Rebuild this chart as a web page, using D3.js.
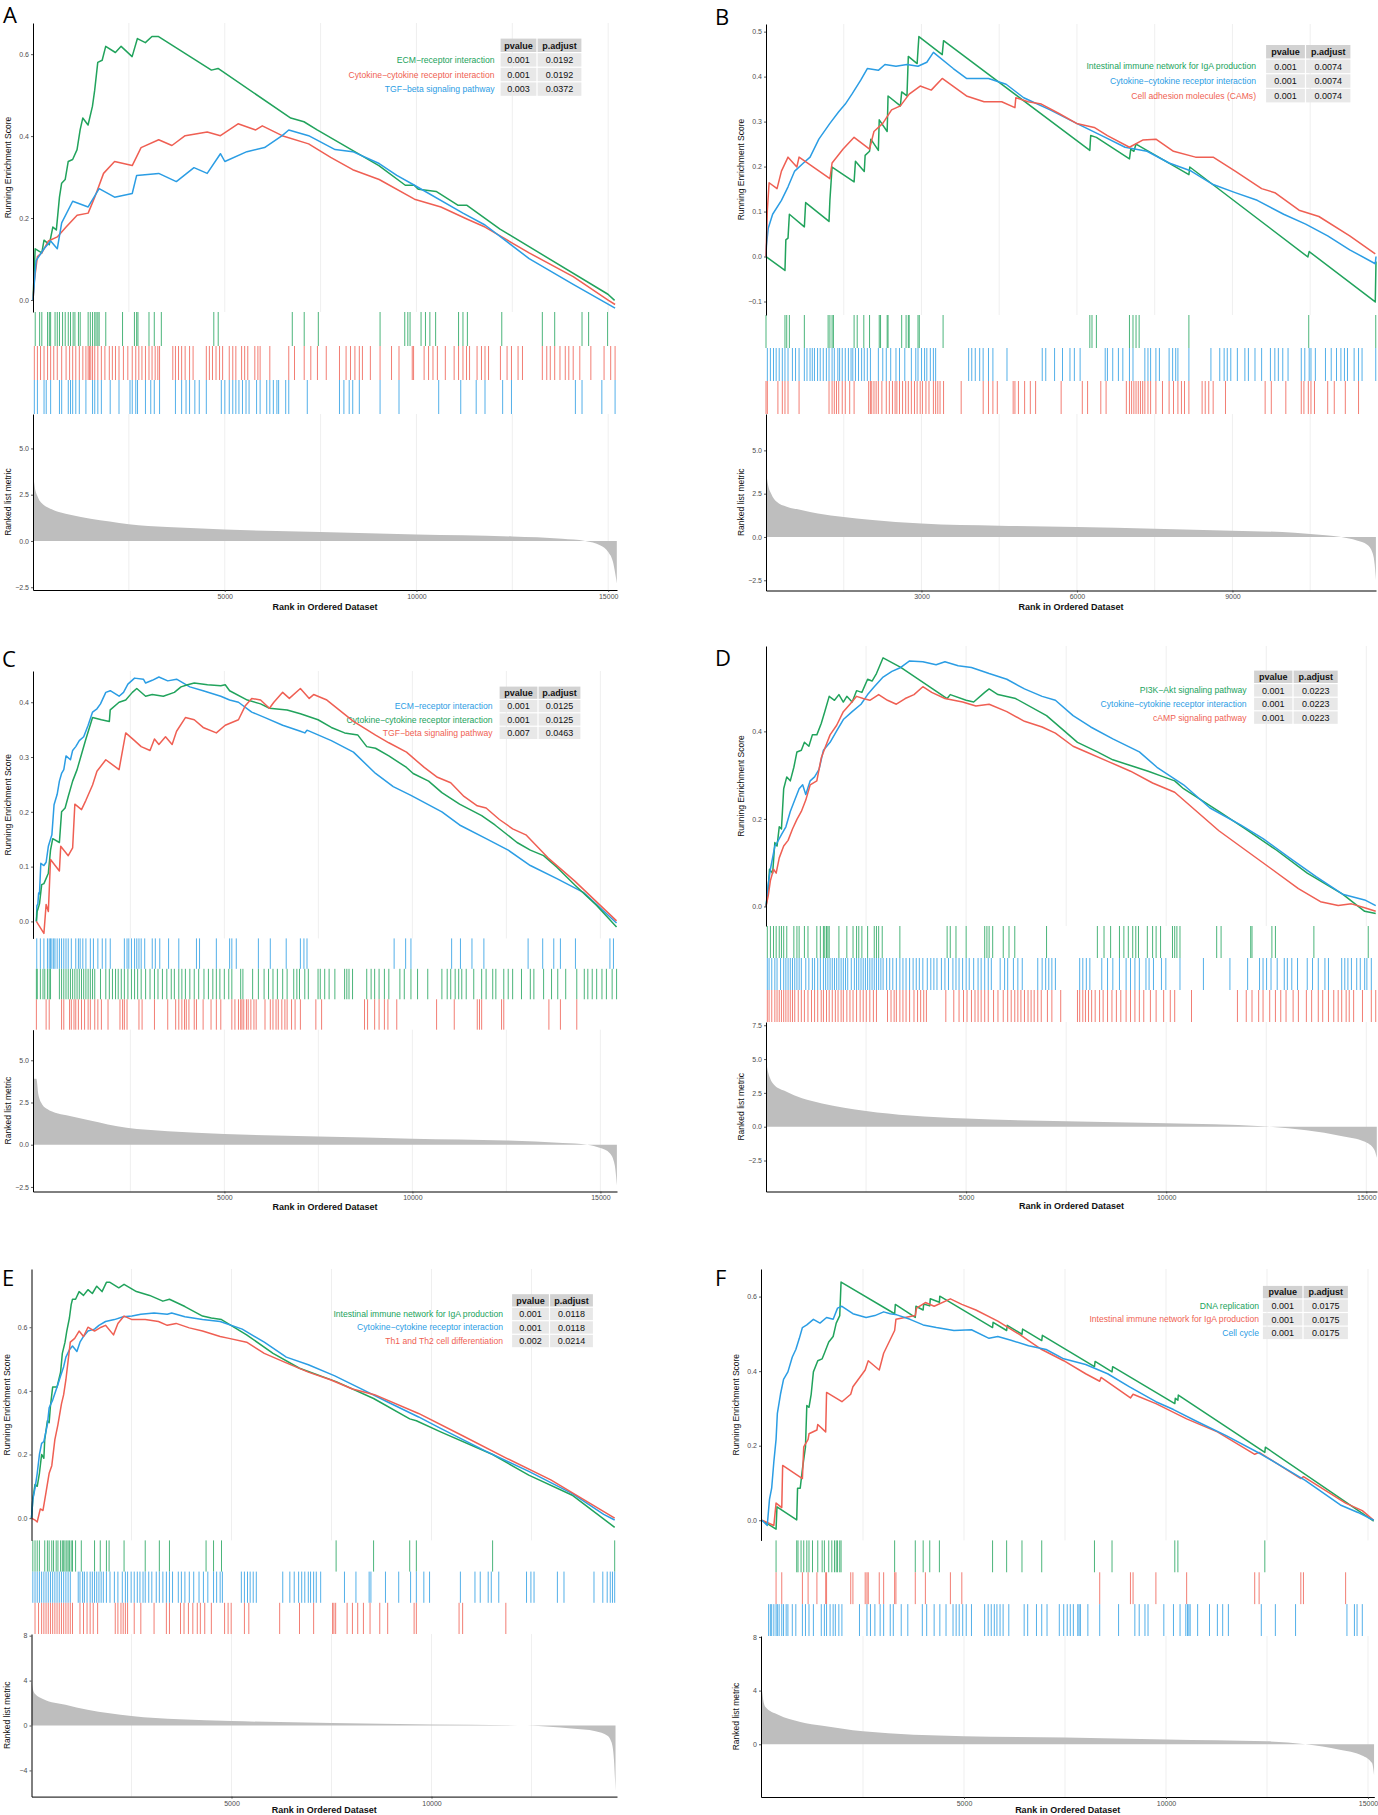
<!DOCTYPE html>
<html lang="en">
<head>
<meta charset="UTF-8" />
<title>GSEA enrichment plots</title>
<script src="https://d3js.org/d3.v7.min.js"></script>
<style>
  body { margin: 0; background: #fff; }
</style>
</head>
<body>
<svg width="1378" height="1815"></svg>
<script>
// ---------- data ----------
// A
const termsA = ["ECM−receptor interaction", "Cytokine−cytokine receptor interaction", "TGF−beta signaling pathway"];
const pvalA = ["0.001", "0.001", "0.003"];
const padjA = ["0.0192", "0.0192", "0.0372"];
const esA1 = [[0,0],[57,0.125],[230,0.115],[287,0.146],[425,0.135],[517,0.178],[609,0.171],[690,0.251],[747,0.285],[839,0.294],[919,0.338],[1034,0.343],[1149,0.367],[1229,0.415],[1298,0.444],[1436,0.427],[1551,0.473],[1609,0.512],[1689,0.58],[1804,0.585],[1896,0.619],[2149,0.604],[2298,0.619],[2585,0.594],[2723,0.638],[2930,0.628],[3102,0.643],[3275,0.643],[4653,0.561],[4826,0.565],[6722,0.444],[7066,0.435],[7411,0.415],[9020,0.328],[9709,0.28],[9939,0.28],[10053,0.27],[10513,0.265],[11088,0.231],[11318,0.231],[12179,0.173],[14994,0.014],[15167,-0.001]];
const esA2 = [[0,0],[35,0.047],[115,0.106],[230,0.115],[403,0.144],[633,0.154],[863,0.178],[1150,0.207],[1438,0.212],[1610,0.251],[1840,0.309],[2128,0.338],[2588,0.328],[2818,0.372],[3278,0.391],[3623,0.377],[3968,0.401],[4543,0.41],[4888,0.401],[5348,0.43],[5808,0.415],[5980,0.425],[6498,0.401],[7188,0.381],[7763,0.348],[8338,0.318],[9028,0.294],[9948,0.246],[10638,0.227],[11328,0.197],[11788,0.178],[12938,0.115],[14088,0.057],[15008,-0.001],[15180,-0.011]];
const esA3 = [[0,0],[80,0.096],[288,0.125],[460,0.144],[633,0.125],[748,0.188],[1035,0.241],[1438,0.227],[1725,0.272],[2128,0.251],[2588,0.26],[2703,0.304],[3278,0.309],[3738,0.289],[4198,0.323],[4543,0.309],[4888,0.357],[5003,0.338],[5578,0.362],[6038,0.372],[6498,0.401],[6670,0.415],[7188,0.401],[7878,0.367],[8338,0.362],[9028,0.333],[9488,0.304],[9948,0.28],[11213,0.212],[11788,0.183],[12938,0.101],[14088,0.038],[15180,-0.02]];
const hitsA1 = [58,173,230,380,426,460,575,633,690,771,840,920,978,1047,1093,1185,1231,1438,1495,1553,1610,1645,1691,1725,1898,2335,2645,2703,2737,3025,3163,3347,4715,4830,6762,7073,7441,9051,9695,9775,9833,10120,10235,10350,10500,11098,11213,11328,12225,13283,13605,14318,14490,14985];
const hitsA2 = [35,115,196,288,380,460,541,633,748,863,955,1035,1116,1208,1300,1380,1438,1472,1507,1553,1610,1691,1783,1875,1990,2070,2151,2243,2358,2473,2588,2680,2760,2841,2933,3025,3105,3186,3255,3301,3646,3715,3795,3876,3968,4083,4175,4520,4600,4681,4773,4865,4945,5118,5210,5290,5440,5520,5601,5785,5865,5923,6176,6670,6820,7073,7245,7418,7648,7993,8165,8280,8395,8510,8591,8798,9051,9350,9545,9890,9925,10200,10316,10431,10546,10753,10983,11098,11213,11305,11385,11581,11696,11788,11880,12190,12363,12478,12650,12765,13283,13398,13490,13605,13743,13881,13973,14088,14260,14548,14893,15065,15180];
const hitsA3 = [35,115,288,345,460,690,748,920,978,1035,1116,1208,1380,1553,1610,1691,1783,2013,2243,2530,2588,2680,2726,2933,3071,3163,3301,3715,3876,3991,4083,4221,4336,4520,4911,5003,5118,5210,5290,5371,5463,5555,5635,5831,5923,6095,6176,6268,6360,6406,6590,6670,7153,7993,8108,8246,8338,8510,9051,9545,10580,11155,11558,11788,12248,12478,14145,14318,14835,15180];
const metricA = [[0,3.8],[40,3.0],[120,2.4],[250,2.0],[400,1.8],[700,1.55],[1000,1.4],[1500,1.2],[2000,1.05],[2500,0.9],[3500,0.75],[5000,0.62],[7500,0.48],[10000,0.35],[12500,0.24],[13800,0.12],[14400,0.0],[14800,-0.25],[15000,-0.6],[15120,-1.1],[15180,-1.7],[15225,-2.3]];

// B
const termsB = ["Intestinal immune network for IgA production", "Cytokine−cytokine receptor interaction", "Cell adhesion molecules (CAMs)"];
const pvalB = ["0.001", "0.001", "0.001"];
const padjB = ["0.0074", "0.0074", "0.0074"];
const esB1 = [[0,0],[366,-0.031],[383,0.037],[425,0.041],[451,0.094],[740,0.066],[765,0.12],[1216,0.078],[1233,0.125],[1275,0.199],[1700,0.166],[1726,0.212],[1896,0.189],[1913,0.225],[1998,0.234],[2023,0.261],[2168,0.236],[2185,0.304],[2338,0.278],[2355,0.357],[2593,0.335],[2618,0.366],[2720,0.357],[2746,0.445],[2916,0.429],[2950,0.489],[3400,0.449],[3426,0.48],[6248,0.236],[6265,0.269],[6375,0.265],[7013,0.217],[7038,0.239],[7098,0.234],[7140,0.25],[8160,0.182],[8177,0.199],[10455,-0.001],[10481,0.011],[11756,-0.101],[11770,-0.011]];
const esB2 = [[0,0],[8,0.024],[43,0.063],[128,0.094],[298,0.125],[425,0.155],[553,0.19],[723,0.208],[850,0.221],[1020,0.261],[1233,0.296],[1403,0.322],[1530,0.339],[1658,0.361],[1828,0.392],[1955,0.418],[2168,0.414],[2295,0.427],[2508,0.423],[2720,0.427],[2933,0.423],[3103,0.432],[3230,0.454],[3613,0.418],[3868,0.396],[4293,0.396],[4633,0.383],[4973,0.353],[5483,0.326],[5993,0.296],[6545,0.265],[6928,0.243],[7353,0.234],[7778,0.208],[8203,0.19],[8628,0.16],[9053,0.142],[9478,0.125],[9988,0.094],[10413,0.072],[10838,0.046],[11263,0.015],[11756,-0.016],[11770,0]];
const esB3 = [[0,0],[26,0.103],[60,0.164],[213,0.151],[298,0.19],[425,0.221],[595,0.199],[638,0.221],[1233,0.173],[1275,0.208],[1488,0.239],[1700,0.265],[1998,0.239],[2083,0.278],[2253,0.296],[2423,0.326],[2593,0.335],[2763,0.361],[2975,0.379],[3188,0.37],[3400,0.396],[3868,0.357],[4208,0.344],[4548,0.344],[4803,0.331],[4820,0.353],[5058,0.344],[5313,0.339],[5653,0.318],[5993,0.296],[6333,0.287],[6588,0.269],[7013,0.243],[7268,0.259],[7523,0.261],[7863,0.234],[8288,0.221],[8628,0.221],[9053,0.19],[9563,0.151],[9818,0.142],[10285,0.103],[10668,0.089],[11263,0.046],[11756,0.006]];
const hitsB1 = [0,366,400,451,740,1199,1233,1275,1301,1700,1760,1887,1998,2185,2210,2338,2355,2618,2703,2746,2763,2933,2958,3417,6248,6290,6375,7013,7081,7140,7200,8160,10472,11765];
const hitsB2 = [26,85,145,196,255,315,366,425,510,570,638,740,791,850,893,935,995,1046,1105,1165,1216,1275,1318,1386,1420,1471,1530,1590,1641,1675,1726,1785,1845,1896,1955,2015,2168,2253,2321,2406,2508,2576,2678,2805,2890,2933,3001,3060,3103,3171,3230,3273,3910,3970,4038,4123,4190,4293,4378,4650,5330,5398,5568,5721,5865,5950,6061,6545,6588,6690,6800,6885,7013,7081,7310,7370,7421,7523,7591,7778,7846,7905,7948,8160,8585,8755,8840,8900,8968,9095,9240,9308,9435,9563,9733,9818,9886,9971,10073,10328,10396,10481,10515,10600,10795,10906,11008,11093,11161,11220,11348,11433,11501,11765];
const hitsB3 = [0,26,230,315,366,425,638,1216,1275,1318,1360,1403,1471,1530,1615,1700,1981,2015,2040,2083,2125,2168,2236,2321,2380,2440,2491,2525,2576,2635,2695,2746,2805,2865,2916,2975,3018,3086,3145,3230,3273,3315,3358,3426,3766,4191,4293,4378,4463,4769,4803,4871,4990,5100,5202,5695,6103,6205,6460,6562,6953,7013,7055,7098,7140,7183,7225,7268,7310,7370,7421,7523,7650,7778,7863,7948,8016,8075,8160,8415,8475,8543,8628,8866,9631,9750,10030,10328,10379,10464,10515,10583,10838,10965,11178,11433];
const metricB = [[0,3.8],[40,3.0],[100,2.5],[200,2.05],[400,1.75],[700,1.55],[1000,1.35],[1500,1.15],[2000,1.0],[3000,0.78],[4500,0.65],[6000,0.57],[7500,0.47],[9000,0.36],[10200,0.25],[10800,0.1],[11100,0.0],[11400,-0.2],[11600,-0.45],[11700,-0.9],[11745,-1.6],[11768,-2.5]];

// C
const termsC = ["ECM−receptor interaction", "Cytokine−cytokine receptor interaction", "TGF−beta signaling pathway"];
const pvalC = ["0.001", "0.001", "0.007"];
const padjC = ["0.0125", "0.0125", "0.0463"];
const esC1 = [[0,0],[15,0.029],[40,0.032],[60,0.052],[82,0.05],[118,0.106],[200,0.102],[259,0.108],[318,0.137],[412,0.158],[470,0.213],[553,0.232],[612,0.256],[670,0.27],[729,0.277],[788,0.302],[906,0.295],[964,0.312],[1047,0.319],[1141,0.33],[1258,0.337],[1376,0.358],[1494,0.382],[1611,0.388],[1705,0.397],[1846,0.418],[1964,0.421],[2199,0.411],[2317,0.418],[2434,0.433],[2611,0.444],[2846,0.442],[2905,0.435],[3081,0.44],[3258,0.446],[3493,0.439],[3728,0.442],[4081,0.428],[4434,0.421],[4904,0.411],[5139,0.404],[5374,0.4],[5727,0.382],[6080,0.372],[6550,0.358],[7021,0.347],[7138,0.344],[7197,0.349],[7844,0.33],[8432,0.309],[9020,0.27],[9490,0.246],[9961,0.23],[10784,0.2],[11254,0.176],[11960,0.151],[12548,0.13],[13136,0.102],[13842,0.078],[14547,0.053],[15429,-0.003]];
const esC2 = [[0,0],[20,0.018],[40,0.022],[82,0.032],[141,0.067],[200,0.069],[318,0.088],[376,0.13],[435,0.151],[612,0.144],[670,0.2],[764,0.207],[847,0.228],[964,0.256],[1082,0.277],[1200,0.305],[1317,0.333],[1494,0.372],[1729,0.368],[1940,0.365],[1964,0.386],[2199,0.4],[2376,0.404],[2552,0.418],[2670,0.425],[2905,0.411],[3081,0.414],[3375,0.411],[3669,0.418],[3846,0.428],[4022,0.432],[4198,0.435],[4551,0.432],[4904,0.43],[5022,0.432],[5139,0.421],[5610,0.404],[5962,0.397],[6198,0.389],[6668,0.386],[7021,0.379],[7491,0.368],[7844,0.354],[8197,0.344],[8550,0.34],[8785,0.319],[9020,0.316],[9373,0.302],[9843,0.281],[10020,0.27],[10431,0.256],[10784,0.235],[11254,0.214],[11842,0.193],[12195,0.176],[12783,0.144],[13136,0.13],[13489,0.12],[13842,0.099],[14312,0.067],[14900,0.029],[15429,-0.01]];
const esC3 = [[0,0],[200,-0.022],[259,0.031],[318,0.018],[376,0.113],[612,0.092],[647,0.137],[847,0.12],[964,0.134],[1023,0.214],[1200,0.204],[1317,0.221],[1494,0.249],[1611,0.274],[1846,0.295],[2199,0.277],[2376,0.344],[2611,0.33],[2787,0.319],[3022,0.312],[3140,0.333],[3258,0.323],[3434,0.337],[3610,0.323],[3728,0.347],[3963,0.372],[4198,0.368],[4434,0.354],[4786,0.344],[5022,0.358],[5374,0.368],[5551,0.393],[5727,0.407],[5962,0.404],[6198,0.389],[6315,0.4],[6550,0.418],[6727,0.407],[7021,0.425],[7256,0.407],[7374,0.414],[7726,0.404],[8432,0.365],[9020,0.34],[9373,0.326],[9843,0.309],[10314,0.281],[10666,0.263],[11019,0.253],[11372,0.228],[11725,0.211],[11960,0.207],[12313,0.186],[12666,0.169],[13018,0.158],[13606,0.116],[14312,0.074],[15429,0.001]];
const hitsC1 = [10,106,200,294,341,376,412,459,494,553,612,670,729,788,847,929,1047,1117,1164,1235,1317,1435,1517,1635,1752,1846,1964,2340,2411,2458,2528,2611,2670,2728,2787,2881,3081,3163,3281,3516,3787,4257,4339,4786,5139,5198,5316,5904,6221,6644,7021,7115,7197,9514,9820,9961,11043,11278,11584,11901,13077,13465,13759,13936,14336,15253,15347];
const hitsC2 = [0,24,106,176,223,294,341,376,612,670,729,788,847,906,964,1023,1082,1141,1200,1258,1317,1376,1435,1494,1552,1705,1846,1940,2023,2105,2176,2258,2340,2434,2528,2611,2693,2787,2905,3022,3140,3234,3352,3469,3587,3669,3787,3869,3963,4081,4198,4316,4457,4575,4692,4786,4880,4998,5116,5198,5433,5492,5751,5904,6056,6174,6292,6409,6550,6668,6844,6927,6997,7138,7232,7491,7550,7668,7785,7938,8197,8256,8314,8408,8785,8902,8996,9114,9255,9373,9667,9784,9961,10137,10408,10784,10925,11019,11137,11231,11313,11431,11631,11842,11960,12136,12219,12430,12548,12666,12901,13136,13230,13489,13700,13865,14077,14371,14571,14665,14782,14900,15041,15159,15312,15430];
const hitsC3 = [0,259,341,670,729,882,929,1000,1047,1117,1200,1282,1376,1435,1552,1635,1729,1905,2223,2293,2340,2411,2728,2811,3140,3493,3704,3787,3869,3940,3987,4057,4198,4257,4434,4645,4786,4904,5198,5280,5374,5433,5468,5515,5586,5633,5704,5786,5845,6080,6221,6292,6374,6433,6527,6609,6668,6786,6880,7021,7432,7585,8726,8808,8996,9114,9255,9349,9584,10643,11113,11725,11784,11842,12371,12430,13630,13936,14371];
const metricC = [[-85,3.9],[0,3.9],[50,3.0],[150,2.4],[300,2.1],[500,1.9],[800,1.75],[1400,1.45],[2400,1.0],[3500,0.8],[5000,0.64],[7500,0.48],[10000,0.36],[12500,0.25],[14000,0.1],[14650,0.0],[15000,-0.2],[15250,-0.5],[15380,-1.2],[15438,-2.4]];

// D
const termsD = ["PI3K−Akt signaling pathway", "Cytokine−cytokine receptor interaction", "cAMP signaling pathway"];
const pvalD = ["0.001", "0.001", "0.001"];
const padjD = ["0.0223", "0.0223", "0.0223"];
const esD1 = [[0,0],[55,0.041],[88,0.085],[166,0.076],[221,0.146],[276,0.138],[331,0.182],[386,0.177],[442,0.269],[519,0.296],[607,0.287],[696,0.318],[773,0.353],[883,0.357],[960,0.375],[1071,0.366],[1159,0.392],[1270,0.392],[1380,0.418],[1468,0.445],[1579,0.48],[1711,0.471],[1822,0.484],[1932,0.467],[2020,0.48],[2153,0.467],[2263,0.493],[2396,0.489],[2539,0.519],[2650,0.515],[2760,0.532],[2926,0.568],[3367,0.546],[4526,0.475],[4604,0.484],[5001,0.471],[5189,0.467],[5465,0.489],[5575,0.497],[5796,0.484],[6238,0.475],[7010,0.436],[7452,0.401],[7783,0.375],[8280,0.353],[8666,0.335],[9108,0.322],[9550,0.309],[9936,0.296],[10212,0.287],[10433,0.269],[11316,0.217],[11978,0.177],[12751,0.129],[13524,0.076],[14407,0.028],[14959,-0.011],[15235,-0.016]];
const esD2 = [[0,0],[55,0.05],[110,0.085],[221,0.138],[276,0.146],[386,0.164],[497,0.182],[607,0.217],[718,0.243],[828,0.269],[916,0.278],[994,0.256],[1104,0.287],[1214,0.296],[1325,0.313],[1435,0.357],[1601,0.375],[1766,0.401],[1932,0.427],[2153,0.445],[2374,0.462],[2539,0.484],[2705,0.502],[2926,0.524],[3146,0.537],[3367,0.546],[3588,0.561],[3919,0.559],[4250,0.552],[4471,0.559],[4802,0.55],[5134,0.546],[5575,0.532],[6017,0.519],[6458,0.497],[6900,0.48],[7231,0.471],[7673,0.436],[8114,0.41],[8666,0.383],[9329,0.353],[9770,0.318],[10433,0.278],[11095,0.225],[11868,0.186],[12420,0.155],[13082,0.111],[13745,0.068],[14407,0.028],[14959,0.015],[15235,0.002]];
const esD3 = [[0,0],[55,0.024],[110,0.059],[188,0.085],[254,0.076],[331,0.111],[442,0.138],[552,0.151],[662,0.177],[773,0.199],[883,0.217],[994,0.243],[1104,0.278],[1270,0.287],[1380,0.339],[1490,0.366],[1601,0.392],[1766,0.414],[1932,0.445],[2098,0.462],[2263,0.48],[2429,0.475],[2594,0.471],[2815,0.484],[3036,0.471],[3257,0.462],[3478,0.475],[3698,0.484],[3919,0.502],[4140,0.489],[4471,0.475],[4913,0.467],[5244,0.458],[5575,0.462],[6017,0.445],[6458,0.423],[6900,0.41],[7231,0.396],[7673,0.366],[8004,0.353],[8556,0.331],[9108,0.309],[9660,0.282],[10212,0.261],[10764,0.217],[11316,0.173],[11978,0.129],[12641,0.085],[13303,0.041],[13855,0.011],[14297,0.002],[14628,0.006],[14959,-0.003],[15235,-0.011]];
const hitsD1 = [33,110,188,254,331,386,442,519,696,773,828,960,1049,1270,1358,1435,1468,1512,1546,1579,1822,2020,2175,2263,2318,2396,2539,2705,2760,2815,2904,3345,4526,4604,4747,5001,5465,5520,5575,5664,5928,6072,6216,7010,8280,8446,8611,8832,8942,9053,9163,9240,9307,9528,9660,9748,9859,10157,10212,10267,10344,11261,11371,12111,12144,12641,12729,13690,15048];
const hitsD2 = [33,77,144,221,276,364,442,497,552,607,662,718,773,828,883,994,1071,1159,1214,1292,1358,1435,1490,1546,1601,1656,1711,1766,1822,1877,1932,1987,2042,2131,2208,2263,2318,2374,2429,2484,2539,2594,2650,2705,2760,2815,2870,2926,3014,3091,3168,3257,3345,3422,3500,3588,3676,3754,3831,3919,4030,4118,4195,4272,4383,4471,4560,4670,4747,4824,4913,5001,5078,5189,5299,5376,5465,5553,5630,5851,5962,6039,6182,6293,6403,6790,6900,6988,7066,7143,7231,7838,7916,8004,8092,8390,8534,8666,8832,8998,9108,9218,9329,9494,9572,9682,9881,9991,10344,10930,11592,12034,12332,12420,12508,12619,12773,12950,13027,13138,13281,13524,13656,13800,13966,14054,14385,14462,14540,14628,14760,14849,14959,15014,15125];
const hitsD3 = [33,77,144,221,276,331,386,442,497,552,607,662,718,806,883,960,1049,1137,1214,1292,1380,1435,1512,1579,1656,1733,1800,1877,1932,2020,2098,2175,2263,2352,2429,2506,2594,2683,2760,3036,3124,3202,3257,3345,3422,3500,3588,3698,3787,3864,3941,4008,4493,4692,4824,4935,5023,5134,5222,5299,5376,5465,5553,5686,5796,5928,6039,6127,6216,6293,6370,6458,6547,6624,6701,6790,6878,7032,7143,7364,7783,7838,7916,7982,8059,8137,8225,8335,8424,8534,8644,8755,8865,8998,9108,9218,9329,9439,9605,9748,9936,10102,10212,10632,11780,12000,12144,12310,12420,12586,12729,12862,12994,13171,13303,13502,13634,13800,13910,14054,14186,14297,14385,14496,14573,14683,14904,15125,15235];
const metricD = [[0,4.9],[40,4.2],[100,3.6],[200,3.1],[500,2.6],[900,2.1],[1400,1.72],[2500,1.16],[3600,0.82],[5000,0.6],[7500,0.4],[10000,0.26],[12400,0.03],[13500,-0.26],[14400,-0.7],[14950,-1.1],[15200,-1.7],[15262,-2.3]];

// E
const termsE = ["Intestinal immune network for IgA production", "Cytokine−cytokine receptor interaction", "Th1 and Th2 cell differentiation"];
const pvalE = ["0.001", "0.001", "0.002"];
const padjE = ["0.0118", "0.0118", "0.0214"];
const esE1 = [[0,0],[33,0.059],[88,0.106],[143,0.1],[198,0.141],[253,0.2],[309,0.188],[331,0.247],[397,0.306],[441,0.3],[474,0.353],[529,0.412],[639,0.412],[727,0.459],[771,0.518],[838,0.553],[882,0.588],[948,0.629],[992,0.671],[1025,0.688],[1102,0.688],[1190,0.712],[1300,0.7],[1411,0.718],[1521,0.706],[1631,0.729],[1763,0.712],[1873,0.741],[1962,0.741],[2182,0.724],[2314,0.735],[2623,0.712],[2953,0.7],[3284,0.682],[3449,0.688],[3835,0.665],[4276,0.635],[4496,0.629],[4750,0.624],[5378,0.576],[6039,0.518],[6700,0.471],[7615,0.429],[8552,0.376],[9455,0.312],[9621,0.306],[10227,0.271],[11527,0.2],[12431,0.135],[13533,0.071],[14579,-0.029]];
const esE2 = [[0,0],[33,0.059],[88,0.094],[143,0.141],[198,0.2],[253,0.235],[309,0.241],[397,0.294],[441,0.347],[529,0.371],[639,0.412],[727,0.447],[804,0.476],[860,0.506],[948,0.529],[1025,0.541],[1135,0.524],[1212,0.553],[1300,0.571],[1411,0.588],[1576,0.594],[1686,0.606],[1851,0.618],[2072,0.624],[2292,0.633],[2513,0.635],[2733,0.641],[3064,0.645],[3394,0.641],[3504,0.645],[3835,0.633],[4276,0.624],[4716,0.618],[5268,0.594],[5819,0.553],[6370,0.506],[6921,0.482],[7582,0.447],[8243,0.406],[8904,0.365],[9676,0.318],[10227,0.282],[11329,0.212],[12431,0.147],[13533,0.076],[14304,0.012],[14579,-0.006]];
const esE3 = [[0,0],[88,-0.006],[143,-0.012],[220,0.029],[287,0.024],[364,0.082],[441,0.141],[507,0.165],[584,0.247],[661,0.294],[749,0.359],[804,0.388],[860,0.435],[915,0.494],[970,0.553],[1080,0.565],[1190,0.588],[1300,0.571],[1411,0.6],[1576,0.588],[1741,0.6],[1851,0.606],[2050,0.576],[2160,0.612],[2314,0.635],[2513,0.624],[2843,0.624],[3174,0.618],[3394,0.606],[3615,0.612],[3945,0.598],[4276,0.588],[4716,0.571],[4937,0.565],[5378,0.553],[5819,0.518],[6370,0.488],[6921,0.459],[7472,0.435],[8023,0.406],[8574,0.388],[9676,0.329],[10778,0.259],[11880,0.188],[12982,0.12],[14579,0]];
const hitsE1 = [33,88,143,198,331,397,441,507,551,617,661,727,771,804,838,882,915,948,992,1025,1102,1245,1576,1719,1873,1940,2314,2843,3196,3449,4364,4551,4750,7615,8552,9455,9621,11527,14579];
const hitsE2 = [33,88,143,198,253,309,364,419,474,529,584,639,694,749,804,860,915,970,1168,1212,1278,1322,1389,1466,1521,1576,1631,1686,1741,1796,1873,1962,2072,2160,2270,2347,2402,2491,2568,2645,2711,2788,2843,2931,3008,3119,3196,3284,3372,3449,3526,3670,3747,3835,3945,4055,4188,4298,4408,4551,4628,4716,4772,5246,5323,5400,5466,5543,5620,6281,6458,6568,6678,6755,6832,6920,6976,7053,7119,7229,7824,8111,8441,8485,8849,9180,9477,9621,9808,9951,10722,11086,11218,11417,11494,11681,12375,12485,12563,13147,13312,14062,14282,14392,14469,14524,14579];
const hitsE3 = [88,176,253,309,364,419,474,529,584,639,694,749,804,860,915,970,1025,1212,1300,1389,1466,1543,1653,2094,2160,2237,2292,2347,2402,2568,2733,3064,3372,3449,3725,3813,3923,4033,4144,4221,4331,4496,4827,4915,4992,5323,5433,6204,6700,7053,7527,7560,7604,7890,8023,8155,8298,8463,8706,8904,9565,9621,10689,10778,11858];
const metricE = [[0,4.0],[30,3.3],[90,2.8],[300,2.35],[850,1.85],[1400,1.4],[2500,0.85],[3700,0.55],[5000,0.4],[7500,0.23],[10000,0.1],[12400,0.0],[13500,-0.27],[14100,-0.5],[14400,-0.9],[14500,-1.5],[14560,-3.0],[14600,-5.8]];

// F
const termsF = ["DNA replication", "Intestinal immune network for IgA production", "Cell cycle"];
const pvalF = ["0.001", "0.001", "0.001"];
const padjF = ["0.0175", "0.0175", "0.0175"];
const esF1 = [[0,0],[348,-0.024],[370,0.036],[859,0.001],[880,0.086],[946,0.086],[1000,0.137],[1076,0.197],[1109,0.308],[1163,0.303],[1217,0.338],[1272,0.398],[1380,0.428],[1489,0.433],[1544,0.448],[1652,0.478],[1761,0.493],[1837,0.529],[1924,0.549],[1957,0.639],[3283,0.554],[3300,0.579],[3794,0.544],[3810,0.574],[3989,0.564],[4000,0.58],[4152,0.575],[4165,0.594],[4391,0.585],[4400,0.601],[5707,0.517],[5720,0.531],[6055,0.509],[6070,0.523],[6435,0.499],[6450,0.513],[6924,0.482],[6940,0.496],[8229,0.412],[8245,0.426],[8664,0.398],[8680,0.412],[10218,0.313],[10230,0.327],[10294,0.322],[10305,0.336],[12446,0.182],[12460,0.196],[15142,-0.002]];
const esF2 = [[0,0],[293,-0.014],[348,0.046],[489,0.034],[511,0.147],[1000,0.112],[1033,0.197],[1141,0.217],[1163,0.232],[1359,0.242],[1380,0.257],[1576,0.237],[1598,0.343],[1978,0.318],[2196,0.338],[2250,0.358],[2554,0.403],[2598,0.418],[2630,0.428],[2902,0.403],[3011,0.448],[3283,0.509],[3315,0.539],[3794,0.549],[3826,0.569],[4044,0.584],[4261,0.574],[4663,0.594],[4946,0.579],[5294,0.564],[5837,0.534],[6381,0.498],[6924,0.458],[7468,0.428],[8011,0.393],[8359,0.373],[8392,0.383],[9120,0.328],[9185,0.338],[9750,0.313],[10511,0.272],[11272,0.237],[12196,0.177],[12305,0.182],[13337,0.112],[13402,0.117],[14446,0.046],[14859,0.026],[15142,0]];
const esF3 = [[0,0],[130,-0.014],[185,0.056],[239,0.086],[293,0.157],[348,0.217],[380,0.287],[457,0.338],[533,0.378],[641,0.398],[750,0.438],[837,0.458],[924,0.488],[1000,0.517],[1109,0.524],[1272,0.539],[1435,0.529],[1598,0.544],[1761,0.539],[1870,0.569],[1978,0.574],[2250,0.554],[2576,0.544],[2794,0.549],[3011,0.559],[3174,0.554],[3337,0.551],[3663,0.539],[3989,0.524],[4315,0.517],[4750,0.509],[5185,0.511],[5620,0.488],[5837,0.493],[6163,0.483],[6598,0.468],[7033,0.458],[7468,0.433],[8011,0.418],[8555,0.393],[9098,0.358],[9750,0.318],[10185,0.297],[10729,0.267],[11490,0.227],[12359,0.177],[13446,0.107],[14316,0.041],[14751,0.021],[15142,0]];
const hitsF1 = [348,859,891,967,1033,1109,1163,1250,1380,1489,1544,1652,1728,1794,1837,1870,1924,1957,3283,3794,3989,4152,4391,5707,6055,6435,6924,8229,8664,10218,10294,12446];
const hitsF2 = [348,489,1000,1141,1359,1576,1598,2196,2250,2554,2598,2630,2902,3011,3283,3315,3794,4044,4663,4946,8359,9120,9185,9750,10511,12196,12305,13337,13402,14446];
const hitsF3 = [163,207,239,293,348,380,424,489,533,598,641,750,837,1000,1076,1163,1272,1467,1544,1598,1685,1761,1815,1902,1978,2413,2598,2685,2794,2924,3011,3174,3250,3446,3609,3968,4076,4261,4402,4555,4728,4805,4881,4968,5055,5185,5511,5598,5674,5750,5815,5892,5968,6109,6489,6576,6794,6924,7055,7359,7468,7555,7631,7707,7816,7848,7881,8066,8359,8826,9229,9337,9479,9555,9946,10185,10348,10490,10533,10566,10598,10783,11077,11272,11403,11544,12359,12707,13207,14479,14664,14729,14859];
const metricF = [[0,4.0],[30,3.3],[80,2.8],[400,2.2],[950,1.66],[1500,1.38],[2500,0.97],[5000,0.6],[7500,0.5],[10000,0.36],[12500,0.22],[13450,0.0],[14300,-0.4],[14850,-0.83],[15100,-1.4],[15150,-2.3]];

// axis ticks
const xTicksA = [5000, 10000, 15000], gridA = [2500, 5000, 7500, 10000, 12500, 15000];
const xTicksB = [3000, 6000, 9000], gridB = [1500, 3000, 4500, 6000, 7500, 9000, 10500];
const xTicksE = [5000, 10000], gridE = [2500, 5000, 7500, 10000, 12500];
const esTicksA = [0, 0.2, 0.4, 0.6];
const esTicksB = [-0.1, 0, 0.1, 0.2, 0.3, 0.4, 0.5];
const esTicksC = [0, 0.1, 0.2, 0.3, 0.4];
const esTicksD = [0, 0.2, 0.4];
const rankTicksA = [-2.5, 0, 2.5, 5];
const rankTicksD = [-2.5, 0, 2.5, 5, 7.5];
const rankTicksE = [-4, 0, 4, 8];
const rankTicksF = [0, 4, 8];

// ---------- layout & style ----------
const font = "'Liberation Sans', Arial, Helvetica, sans-serif";
const palette = { green: "#21a35c", red: "#ef5f53", blue: "#2b9de4" };

const panels = [
  { id: "A", terms: termsA, pval: pvalA, padj: padjA, es: [esA1, esA2, esA3], hits: [hitsA1, hitsA2, hitsA3], metric: metricA,
    xTicks: xTicksA, grid: gridA, esTicks: esTicksA, rankTicks: rankTicksA, rankFmt: ".1f",
    hue: ["green", "red", "blue"], letter: [3, 23], titleY: 609.5,
    left: 33, right: 617, xDomain: [0, 15230], esTop: 23, esBottom: 312, esDomain: [-0.0293, 0.676],
    hitsBottom: 414, rankBottom: 590, rankDomain: [-2.65, 6.86],
    table: { x: 500, y: 38, w: [37, 45], h: 14.6, lab: 494.5 } },
  { id: "B", terms: termsB, pval: pvalB, padj: padjB, es: [esB1, esB2, esB3], hits: [hitsB1, hitsB2, hitsB3], metric: metricB,
    xTicks: xTicksB, grid: gridB, esTicks: esTicksB, rankTicks: rankTicksA, rankFmt: ".1f",
    hue: ["green", "blue", "red"], letter: [715, 24.5], titleY: 610,
    left: 766, right: 1376, xDomain: [0, 11770], esTop: 24, esBottom: 315, esDomain: [-0.130, 0.517],
    hitsBottom: 414, rankBottom: 590.5, rankDomain: [-3.09, 7.1],
    table: { x: 1265.5, y: 44.4, w: [40, 45.5], h: 14.65, lab: 1256 } },
  { id: "C", terms: termsC, pval: pvalC, padj: padjC, es: [esC1, esC2, esC3], hits: [hitsC1, hitsC2, hitsC3], metric: metricC,
    xTicks: xTicksA, grid: gridA, esTicks: esTicksC, rankTicks: rankTicksA, rankFmt: ".1f",
    hue: ["blue", "green", "red"], letter: [2, 667], titleY: 1209.5,
    left: 33, right: 617, xDomain: [-90, 15441], esTop: 671, esBottom: 938.4, esDomain: [-0.031, 0.457],
    hitsBottom: 1029.7, rankBottom: 1191.5, rankDomain: [-2.77, 6.81],
    table: { x: 499, y: 686, w: [39, 43], h: 13.4, lab: 492.5 } },
  { id: "D", terms: termsD, pval: pvalD, padj: padjD, es: [esD1, esD2, esD3], hits: [hitsD1, hitsD2, hitsD3], metric: metricD,
    xTicks: xTicksA, grid: gridA, esTicks: esTicksD, rankTicks: rankTicksD, rankFmt: ".1f",
    hue: ["green", "blue", "red"], letter: [715, 666], titleY: 1209,
    left: 766, right: 1377, xDomain: [0, 15267], esTop: 646, esBottom: 926, esDomain: [-0.0446, 0.595],
    hitsBottom: 1022, rankBottom: 1191.5, rankDomain: [-4.79, 7.74],
    table: { x: 1253.5, y: 670, w: [39.5, 45.3], h: 13.6, lab: 1246.5 } },
  { id: "E", terms: termsE, pval: pvalE, padj: padjE, es: [esE1, esE2, esE3], hits: [hitsE1, hitsE2, hitsE3], metric: metricE,
    xTicks: xTicksE, grid: gridE, esTicks: esTicksA, rankTicks: rankTicksE, rankFmt: "d",
    hue: ["green", "blue", "red"], letter: [2, 1286], titleY: 1813.3,
    left: 31.5, right: 617, xDomain: [0, 14637], esTop: 1269, esBottom: 1540.4, esDomain: [-0.070, 0.783],
    hitsBottom: 1634, rankBottom: 1796.6, rankDomain: [-6.33, 8.15],
    table: { x: 511.5, y: 1293.6, w: [38, 44], h: 13.55, lab: 503 } },
  { id: "F", terms: termsF, pval: pvalF, padj: padjF, es: [esF1, esF2, esF3], hits: [hitsF1, hitsF2, hitsF3], metric: metricF,
    xTicks: xTicksA, grid: gridA, esTicks: esTicksA, rankTicks: rankTicksF, rankFmt: "d",
    hue: ["green", "red", "blue"], letter: [715, 1286], titleY: 1813.3,
    left: 761, right: 1374.3, xDomain: [-25, 15156], esTop: 1269, esBottom: 1540.4, esDomain: [-0.054, 0.674],
    hitsBottom: 1636, rankBottom: 1797, rankDomain: [-3.93, 8.07],
    table: { x: 1262.3, y: 1285.3, w: [40.7, 45.5], h: 13.6, lab: 1259 } }
];

const svg = d3.select("svg");

function styleAxis(sel) {
  sel.attr("font-size", 7).attr("font-family", font);
  sel.select(".domain").attr("stroke", "#000").attr("stroke-width", 1);
  sel.selectAll(".tick line").attr("stroke", "#333").attr("stroke-width", 0.8);
  sel.selectAll(".tick text").attr("fill", "#4d4d4d");
}

function drawPanel(p) {
  const g = svg.append("g");
  const x = d3.scaleLinear().domain(p.xDomain).range([p.left, p.right]);
  const yEs = d3.scaleLinear().domain(p.esDomain).range([p.esBottom, p.esTop]);
  const yRank = d3.scaleLinear().domain(p.rankDomain).range([p.rankBottom, p.hitsBottom]);
  const yRow = d3.scaleBand().domain([0, 1, 2]).range([p.esBottom, p.hitsBottom]);

  // vertical grid lines (ES and ranked panels)
  [[p.esTop, p.esBottom], [p.hitsBottom, p.rankBottom]].forEach(([y1, y2]) => {
    g.append("g").selectAll("line").data(p.grid).join("line")
      .attr("x1", d => x(d)).attr("x2", d => x(d))
      .attr("y1", y1).attr("y2", y2)
      .attr("stroke", "#ebebeb").attr("stroke-width", 0.8);
  });

  // p-value table
  const t = p.table;
  const cols = [t.x, t.x + t.w[0]];
  const tg = g.append("g").attr("font-family", font).attr("font-size", 9);
  const rows = [["pvalue", "p.adjust"]].concat(p.pval.map((v, i) => [v, p.padj[i]]));
  rows.forEach((r, ri) => {
    r.forEach((txt, ci) => {
      tg.append("rect")
        .attr("x", cols[ci] + 0.6).attr("y", t.y + ri * t.h + 0.6)
        .attr("width", t.w[ci] - 1.2).attr("height", t.h - 1.2)
        .attr("fill", ri === 0 ? "#d2d2d2" : "#e8e8e8");
      tg.append("text")
        .attr("x", cols[ci] + t.w[ci] / 2).attr("y", t.y + ri * t.h + t.h / 2 + 3.2)
        .attr("text-anchor", "middle").attr("fill", "#111")
        .attr("font-weight", ri === 0 ? "bold" : "normal")
        .text(txt);
    });
  });
  tg.selectAll(".lab").data(p.terms).join("text").attr("class", "lab")
    .attr("x", t.lab).attr("y", (d, i) => t.y + (i + 1) * t.h + t.h / 2 + 3)
    .attr("text-anchor", "end").attr("font-size", 8.6)
    .attr("fill", (d, i) => palette[p.hue[i]])
    .text(d => d);

  // running enrichment score curves
  const line = d3.line().x(d => x(d[0])).y(d => yEs(d[1]));
  p.es.forEach((s, i) => {
    g.append("path").datum(s).attr("d", line)
      .attr("fill", "none").attr("stroke", palette[p.hue[i]])
      .attr("stroke-width", 1.5).attr("stroke-linejoin", "round");
  });

  // hit ticks
  p.hits.forEach((h, i) => {
    g.append("g").selectAll("line").data(h).join("line")
      .attr("x1", d => x(d)).attr("x2", d => x(d))
      .attr("y1", yRow(i)).attr("y2", yRow(i) + yRow.bandwidth())
      .attr("stroke", palette[p.hue[i]]).attr("stroke-width", 0.9).attr("stroke-opacity", 0.9);
  });

  // ranked list metric
  const area = d3.area().x(d => x(d[0])).y0(yRank(0)).y1(d => yRank(d[1])).curve(d3.curveMonotoneX);
  g.append("path").datum(p.metric).attr("d", area).attr("fill", "#bebebe");

  // axes
  g.append("g").attr("transform", `translate(${p.left},0)`)
    .call(d3.axisLeft(yEs).tickValues(p.esTicks).tickSize(2).tickSizeOuter(0).tickPadding(2).tickFormat(d3.format(".1f")))
    .call(styleAxis);
  g.append("g").attr("transform", `translate(${p.left},0)`)
    .call(d3.axisLeft(yRank).tickValues(p.rankTicks).tickSize(2).tickSizeOuter(0).tickPadding(2).tickFormat(d3.format(p.rankFmt)))
    .call(styleAxis);
  g.append("g").attr("transform", `translate(0,${p.rankBottom})`)
    .call(d3.axisBottom(x).tickValues(p.xTicks).tickSize(2).tickSizeOuter(0).tickPadding(2).tickFormat(d3.format("d")))
    .call(styleAxis);

  // titles
  const tx = p.left - 22;
  g.append("text").attr("transform", `translate(${tx},${(p.esTop + p.esBottom) / 2}) rotate(-90)`)
    .attr("text-anchor", "middle").attr("font-family", font).attr("font-size", 8.5).attr("fill", "#111")
    .text("Running Enrichment Score");
  g.append("text").attr("transform", `translate(${tx},${(p.hitsBottom + p.rankBottom) / 2}) rotate(-90)`)
    .attr("text-anchor", "middle").attr("font-family", font).attr("font-size", 8.5).attr("fill", "#111")
    .text("Ranked list metric");
  g.append("text").attr("x", (p.left + p.right) / 2).attr("y", p.titleY)
    .attr("text-anchor", "middle").attr("font-family", font).attr("font-size", 9)
    .attr("font-weight", "bold").attr("fill", "#111")
    .text("Rank in Ordered Dataset");

  // panel letter
  g.append("text").attr("x", p.letter[0]).attr("y", p.letter[1])
    .attr("font-family", "'Open Sans', 'DejaVu Sans', sans-serif").attr("font-size", 22).attr("fill", "#000")
    .text(p.id);
}

panels.forEach(drawPanel);
</script>
</body>
</html>
